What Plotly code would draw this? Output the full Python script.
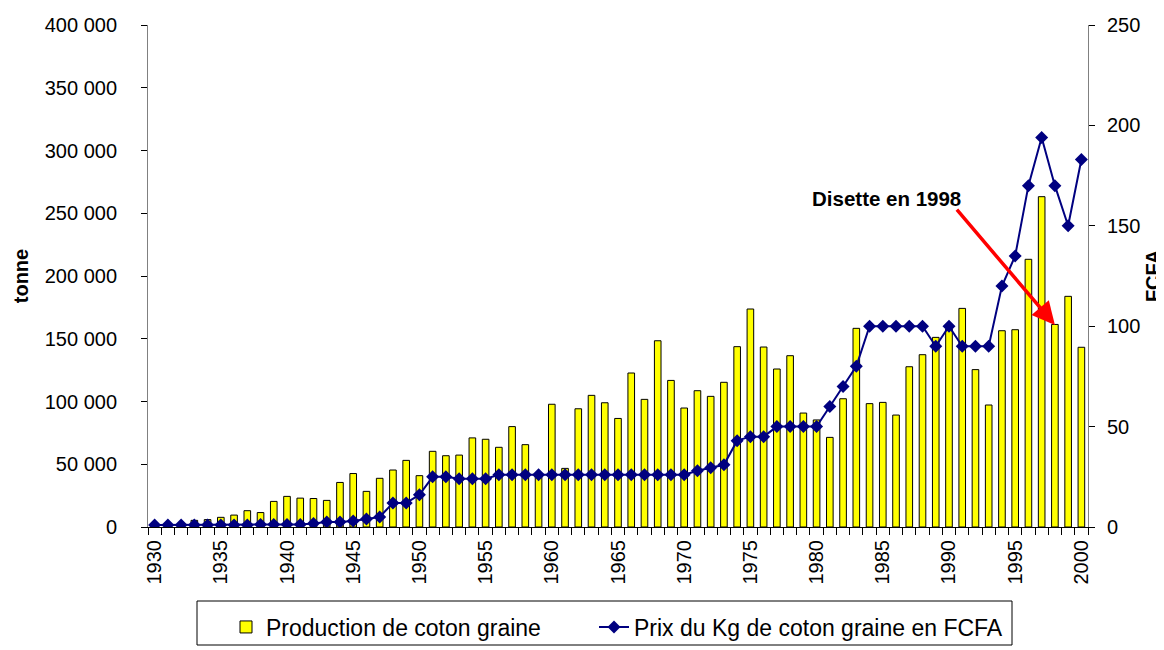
import plotly.graph_objects as go

years = list(range(1930, 2001))

production = [
    1000, 1500, 2500, 5300, 5900, 7700, 9500, 13000, 11500, 20400,
    24400, 23000, 22700, 21200, 35500, 42600, 28400, 38800, 45400, 53100,
    40900, 60300, 56800, 57300, 71000, 69900, 63500, 80000, 65600, 42000,
    97800, 46700, 94200, 104900, 99000, 86500, 122700, 101700, 148400, 116800,
    94800, 108600, 104100, 115300, 143700, 173700, 143400, 125900, 136500, 90800,
    85300, 71400, 102200, 158300, 98300, 99300, 89200, 127700, 137300, 151100,
    157700, 174200, 125400, 97200, 156400, 157200, 213300, 263200, 161400, 183800,
    143200,
]

prix = [
    1, 1, 1, 1, 1, 1, 1, 1, 1.3, 1.3,
    1.3, 1.3, 1.8, 2.5, 2.5, 3, 4, 5, 12, 12,
    16, 25, 25, 24, 24, 24, 26, 26, 26, 26,
    26, 26, 26, 26, 26, 26, 26, 26, 26, 26,
    26, 28, 29.5, 31, 43, 45, 45, 50, 50, 50,
    50, 60, 70, 80, 100, 100, 100, 100, 100, 90,
    100, 90, 90, 90, 120, 135, 170, 194, 170, 150,
    183,
]

xtick_vals = list(range(1930, 2001, 5))
xtick_text = [str(v) for v in xtick_vals]

name_bar = "Production de coton graine"
name_line = "Prix du Kg de coton graine en FCFA"
annot_text = "Disette en 1998"

FONT = "Liberation Sans, Arial, sans-serif"

# page body has an 8px default margin: work in figure coordinates
OFF = 8
W, H = 1164 - OFF, 650 - OFF
L, T = 148 - OFF, 25 - OFF
R = W - (1088 - OFF)
B = H - (527 - OFF)
PW = W - L - R
PH = H - T - B


def px_x(px):  # px in screen coords
    return (px - OFF - L) / PW


def px_y(py):
    return (H - B - (py - OFF)) / PH


fig = go.Figure()
fig.add_trace(go.Bar(
    x=years, y=production, name=name_bar,
    marker=dict(color="#FFFF00", line=dict(color="#000000", width=1)),
    width=0.5, yaxis="y", legend="legend",
))
fig.add_trace(go.Scatter(
    x=years, y=prix, name=name_line, mode="lines+markers",
    line=dict(color="#000080", width=2),
    marker=dict(symbol="diamond", size=10, color="#000080"),
    yaxis="y2", legend="legend2",
))

# annotation text + arrow
fig.add_annotation(
    x=1985.3, y=262000, xref="x", yref="y", text="<b>" + annot_text + "</b>",
    showarrow=False, font=dict(family=FONT, size=20.5, color="#000000"),
)
fig.add_annotation(
    x=1998, y=161000, xref="x", yref="y",
    ax=1990.5, ay=254000, axref="x", ayref="y",
    text="", showarrow=True, arrowhead=2, arrowsize=1.3, arrowwidth=3.5,
    arrowcolor="#FF0000",
)

# legend box
fig.add_shape(type="rect", xref="paper", yref="paper",
              x0=px_x(197), x1=px_x(1012), y0=px_y(645), y1=px_y(601),
              line=dict(color="#000000", width=1), fillcolor="rgba(0,0,0,0)")

leg_common = dict(
    orientation="h", xanchor="left", yanchor="middle",
    font=dict(family=FONT, size=23, color="#000000"),
    bgcolor="rgba(0,0,0,0)", borderwidth=0,
)

fig.update_layout(
    width=W, height=H,
    margin=dict(l=L, r=R, t=T, b=B, autoexpand=False),
    paper_bgcolor="white", plot_bgcolor="white",
    separators=". ",
    font=dict(family=FONT, size=20, color="#000000"),
    showlegend=True,
    legend=dict(x=px_x(266 - 40), y=px_y(627), **leg_common),
    legend2=dict(x=px_x(635 - 41), y=px_y(627), **leg_common),
    bargap=0.5,
    xaxis=dict(
        range=[1929.5, 2000.5],
        tickmode="array", tickvals=xtick_vals, ticktext=xtick_text,
        tickangle=-90, ticks="", showgrid=False, zeroline=False,
        showline=True, linecolor="#000000", linewidth=1,
        tickfont=dict(family=FONT, size=20),
        ticklabelstandoff=4, automargin=False,
        minor=dict(tickmode="linear", tick0=1929.5, dtick=1, ticks="outside",
                   ticklen=7, tickcolor="#000000", showgrid=False),
    ),
    yaxis=dict(
        range=[0, 400000], tickmode="linear", tick0=0, dtick=50000,
        tickformat=",d", ticks="outside", ticklen=6, tickcolor="#000000",
        showgrid=False, zeroline=False,
        showline=True, linecolor="#808080", linewidth=1,
        tickfont=dict(family=FONT, size=20),
        ticklabelstandoff=20, automargin=False,
        title=dict(text="<b>tonne</b>", font=dict(family=FONT, size=20), standoff=10),
    ),
    yaxis2=dict(
        range=[0, 250], tickmode="linear", tick0=0, dtick=50,
        overlaying="y", side="right", anchor="x",
        ticks="outside", ticklen=6, tickcolor="#000000",
        showgrid=False, zeroline=False,
        showline=True, linecolor="#808080", linewidth=1,
        tickfont=dict(family=FONT, size=20),
        ticklabelstandoff=8, automargin=False,
        title=dict(text="<b>FCFA</b>", font=dict(family=FONT, size=20), standoff=8),
    ),
)

fig.write_html("out.html")
